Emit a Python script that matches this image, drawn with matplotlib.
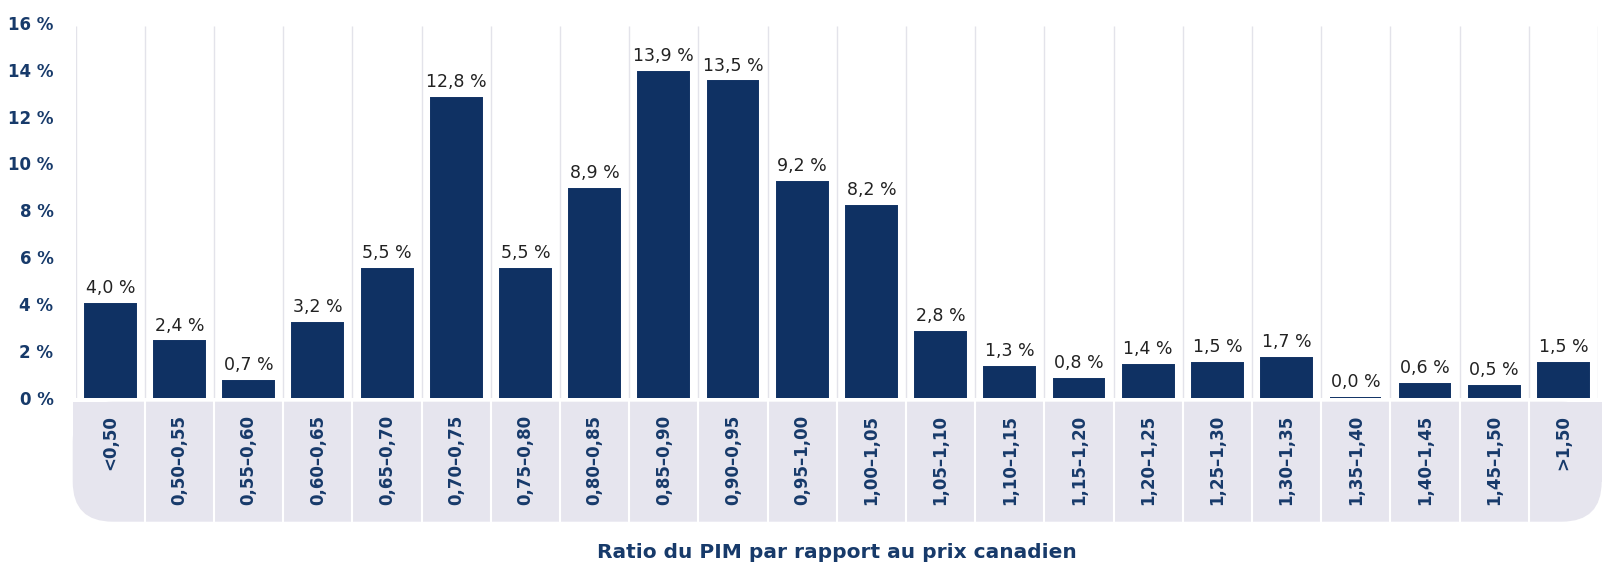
import matplotlib.pyplot as plt
from matplotlib.patches import Rectangle, FancyBboxPatch

# =====================
# Data
# =====================
categories = ["<0,50", "0,50–0,55", "0,55–0,60", "0,60–0,65", "0,65–0,70",
              "0,70–0,75", "0,75–0,80", "0,80–0,85", "0,85–0,90", "0,90–0,95",
              "0,95–1,00", "1,00–1,05", "1,05–1,10", "1,10–1,15", "1,15–1,20",
              "1,20–1,25", "1,25–1,30", "1,30–1,35", "1,35–1,40", "1,40–1,45",
              "1,45–1,50", ">1,50"]
shares = [4.0, 2.4, 0.7, 3.2, 5.5, 12.8, 5.5, 8.9, 13.9, 13.5, 9.2, 8.2,
          2.8, 1.3, 0.8, 1.4, 1.5, 1.7, 0.0, 0.6, 0.5, 1.5]
y_ticks = [0, 2, 4, 6, 8, 10, 12, 14, 16]

BAR = "#0f3163"
NAVY = "#173a6a"
BAND = "#e6e5ee"
GRID = "#e3e3ea"

# =====================
# Figure layout (pixels)
# =====================
W, H = 1620, 577
left, right, top, bottom = 75.7, 1598, 22.9, 397.7

fig = plt.figure(figsize=(W / 100, H / 100), dpi=100)

# background layer for the label band
bg = fig.add_axes([0, 0, 1, 1], zorder=0)
bg.set_xlim(0, W)
bg.set_ylim(H, 0)
bg.axis("off")

bx0, bx1, by0, by1, r = 72.7, 1601.7, 401.7, 521.7, 40
bg.add_patch(FancyBboxPatch((bx0, by0), bx1 - bx0, by1 - by0,
                            boxstyle=f"round,pad=0,rounding_size={r}",
                            facecolor=BAND, edgecolor="none"))
bg.add_patch(Rectangle((bx0, by0), bx1 - bx0, by1 - by0 - r,
                       facecolor=BAND, edgecolor="none"))

ax = fig.add_axes([left / W, 1 - bottom / H, (right - left) / W, (bottom - top) / H],
                  zorder=1)
ax.patch.set_alpha(0)

# =====================
# Bars
# =====================
x = list(range(len(categories)))
bars = ax.bar(x, shares, width=0.735, color=BAR, edgecolor=BAR, linewidth=1.4, zorder=3)
ax.bar_label(bars, labels=[f"{v:.1f} %".replace(".", ",") for v in shares],
             padding=5, fontsize=12.5, color="#222222")

ax.set_xlim(-0.5, len(categories) - 0.5)
ax.set_ylim(0, 16)

# vertical grid at category boundaries
bounds = [i - 0.5 for i in range(len(categories) + 1)]
ax.vlines(bounds, 0, 15.86, color=GRID, linewidth=1, zorder=1)

# white separators in the band
sep_y0 = -(by0 - bottom) / (bottom - top)
sep_y1 = -(by1 - bottom) / (bottom - top)
for b in bounds[1:-1]:
    ax.plot([b, b], [sep_y0, sep_y1], transform=ax.get_xaxis_transform(),
            color="white", linewidth=1.5, clip_on=False, zorder=2)

# =====================
# Axes styling
# =====================
ax.set_xticks(x)
ax.set_xticklabels(categories, rotation=90, ha="center", va="top",
                   fontsize=12, fontweight="bold", color=NAVY)
ax.set_yticks(y_ticks)
ax.set_yticklabels([f"{v} %" for v in y_ticks], fontsize=12,
                   fontweight="bold", color=NAVY)
ax.tick_params(axis="x", length=0, pad=12.5)
ax.tick_params(axis="y", length=0, pad=16)
for s in ax.spines.values():
    s.set_visible(False)

fig.text((left + right) / 2 / W, 1 - 553 / H, "Ratio du PIM par rapport au prix canadien",
         ha="center", va="center", fontsize=14.5, fontweight="bold", color=NAVY)

fig.savefig("out.png", dpi=100)
